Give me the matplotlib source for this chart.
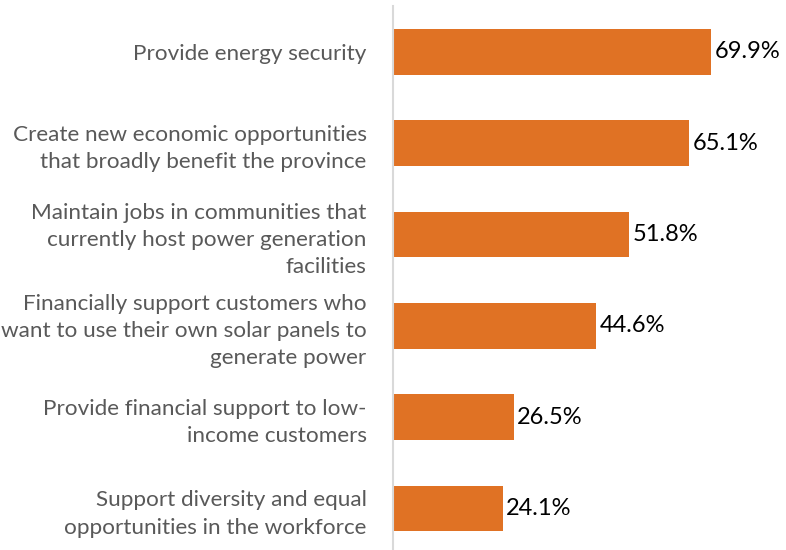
import matplotlib.pyplot as plt

categories = [
    "Provide energy security",
    "Create new economic opportunities\nthat broadly benefit the province",
    "Maintain jobs in communities that\ncurrently host power generation\nfacilities",
    "Financially support customers who\nwant to use their own solar panels to\ngenerate power",
    "Provide financial support to low-\nincome customers",
    "Support diversity and equal\nopportunities in the workforce",
]
values = [69.9, 65.1, 51.8, 44.6, 26.5, 24.1]

plt.rcParams['font.family'] = ['Lato', 'DejaVu Sans']

fig = plt.figure(figsize=(7.86, 5.5), dpi=100)
ax = fig.add_axes([0.5, -4 / 550, 0.5, 548 / 550])

pos = list(range(len(categories)))
ax.barh(pos, values, height=0.5, color="#E07224")
for p, v in zip(pos, values):
    ax.text(v + 0.8, p, f"{v:.1f}%", va="center", ha="left", fontsize=17, color="black")

ax.set_ylim(len(categories) - 0.5, -0.5)
ax.set_xlim(0, 86.4)
ax.set_yticks(pos)
ax.set_yticklabels(categories, fontsize=16.2, color="#595959", linespacing=1.45)
ax.tick_params(axis="y", length=0, pad=19)
ax.set_xticks([])
for s in ["top", "right", "bottom"]:
    ax.spines[s].set_visible(False)
ax.spines["left"].set_color("#D9D9D9")
ax.spines["left"].set_linewidth(1.5)

fig.savefig("out.png", dpi=100)
